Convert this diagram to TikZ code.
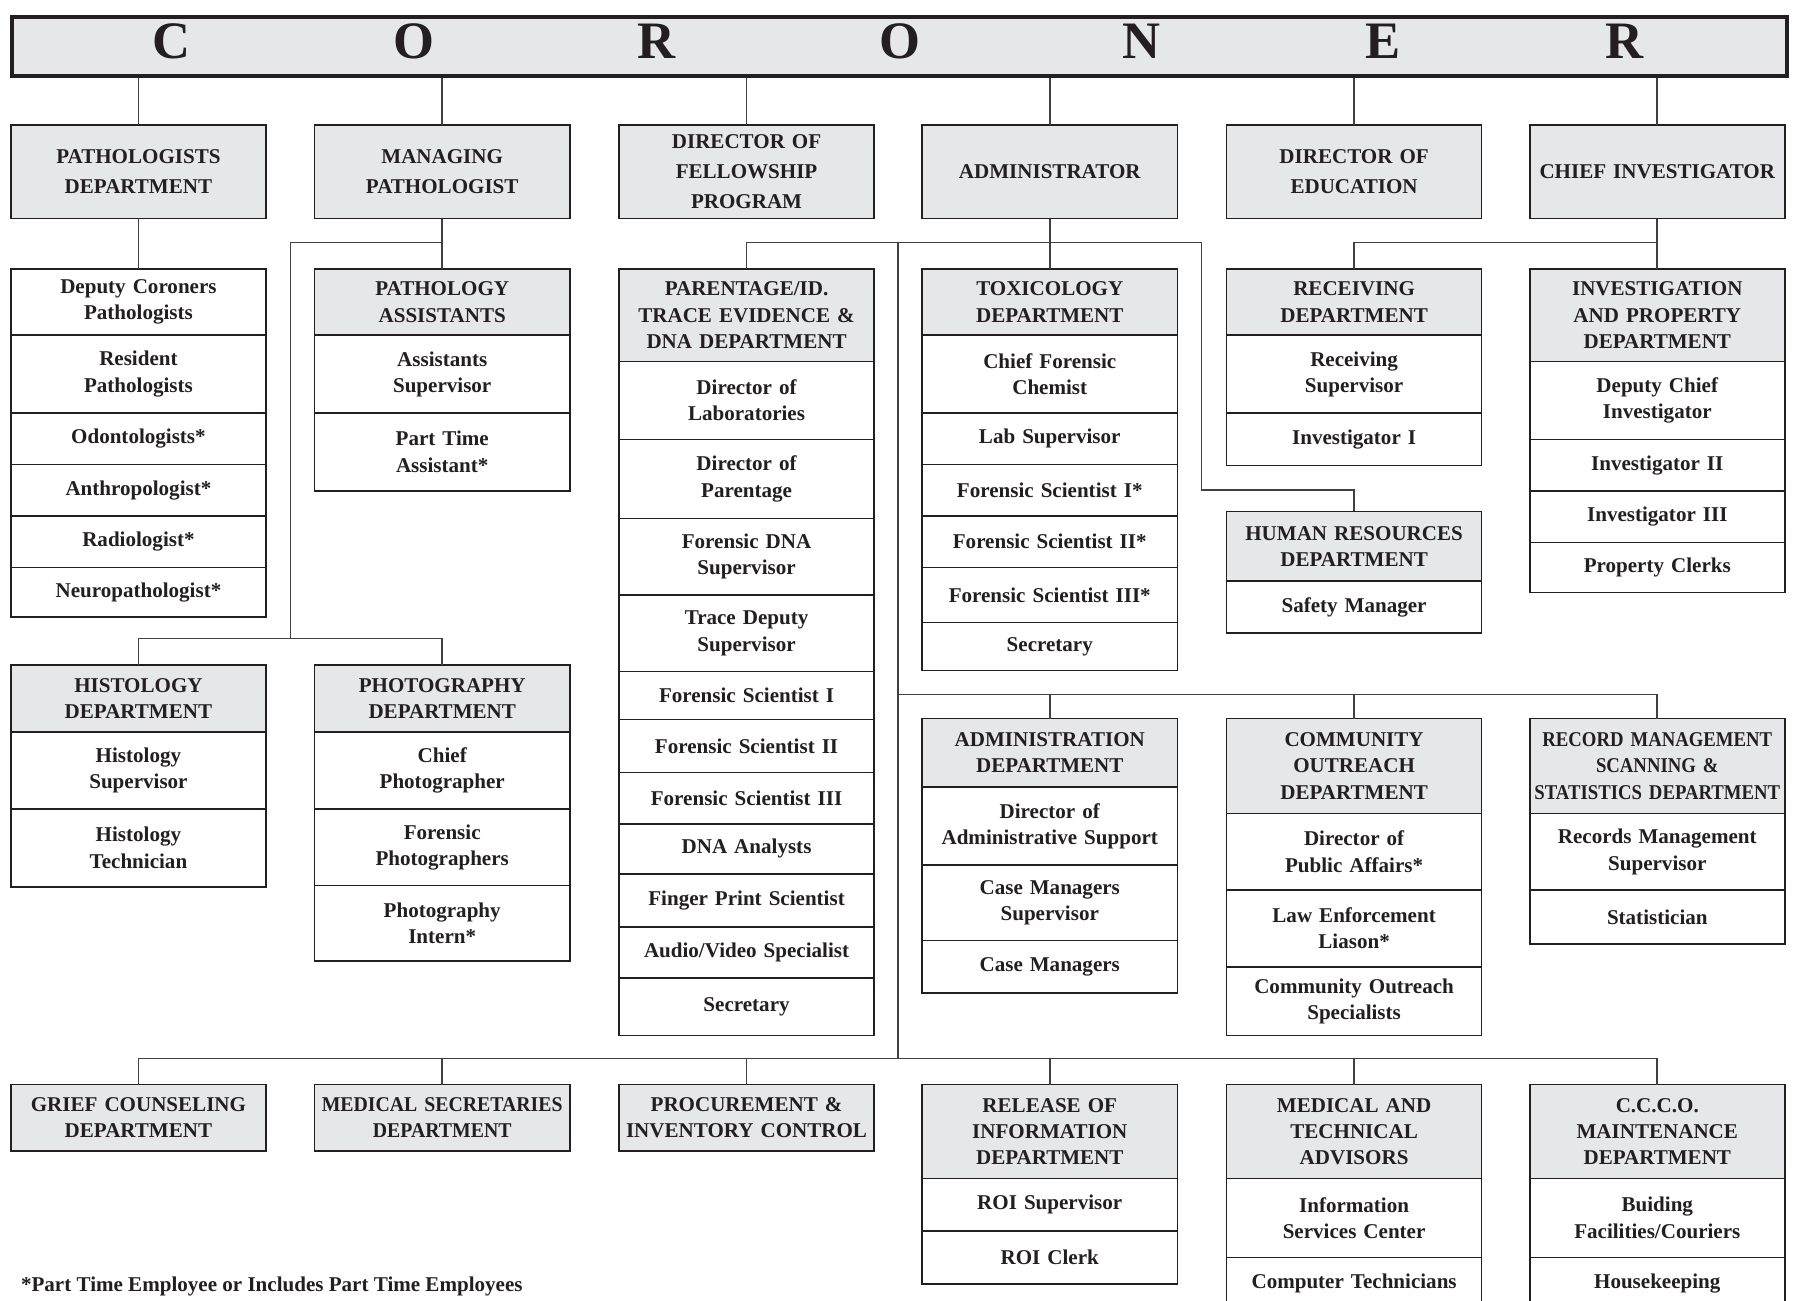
\documentclass[tikz,border=0pt]{standalone}
\usepackage{fontspec}
\setmainfont{Liberation Serif}
\newfontfamily\narrowfont[FakeStretch=0.94]{Liberation Serif}
\newfontfamily\tightfont[FakeStretch=0.89]{Liberation Serif}
\usetikzlibrary{positioning}

\definecolor{inkc}{HTML}{231F20}
\definecolor{headc}{HTML}{E6E7E8}
\definecolor{linec}{HTML}{404040}

\tikzset{
  box/.style={draw=inkc, line width=0.7pt, text=inkc, font=\fontsize{9.2}{11.5}\selectfont\bfseries,
    minimum width=111.5pt, text width=111pt, align=center, inner sep=0pt, outer sep=0pt},
  head/.style={box, fill=headc, anchor=north},
  cell/.style={box, fill=white},
  lead/.style={box, fill=headc, minimum height=41pt, font=\fontsize{9.2}{13}\selectfont\bfseries},
  narrow/.style={font=\narrowfont\fontsize{9.2}{11.5}\selectfont\bfseries},
  tight/.style={font=\tightfont\fontsize{9.2}{11.5}\selectfont\bfseries},
  wire/.style={draw=linec, line width=0.7pt},
}

\newcommand\rows[2]{\foreach \h/\t [count=\i, remember=\i as \j (initially 0)] in {#2}
  {\node[cell, minimum height=\h pt, below=0pt of #1-\j] (#1-\i) {\t};}}

\begin{document}
\begin{tikzpicture}[x=0.5pt, y=-0.5pt]
  \useasboundingbox (0,0) rectangle (1568,1137);

  \node[draw=inkc, line width=1.6pt, fill=headc, minimum width=775.5pt, minimum height=26pt,
    inner sep=0pt, anchor=north west] (coroner) at (9,13) {};
  \foreach \c/\x [count=\n] in {C/150,O/362,R/574,O/787,N/998,E/1209,R/1420}
    \node[text=inkc, font=\fontsize{23}{23}\selectfont\bfseries] (letter\n) at (\x,36) {\c};

  \node[lead] (pathdept) at (121,150) {PATHOLOGISTS\\DEPARTMENT};
  \node[lead] (managing) at (386.5,150) {MANAGING\\PATHOLOGIST};
  \node[lead] (fellow) at (652.5,150) {DIRECTOR OF\\FELLOWSHIP\\PROGRAM};
  \node[lead] (admin) at (917.5,150) {ADMINISTRATOR};
  \node[lead] (educ) at (1183.5,150) {DIRECTOR OF\\EDUCATION};
  \node[lead] (chiefinv) at (1448.5,150) {CHIEF INVESTIGATOR};
  \foreach \n in {pathdept,managing,fellow,admin,educ,chiefinv}
    \draw[wire] (coroner.south -| \n.north) -- (\n.north);

  \node[cell, anchor=north, minimum height=29pt] (pdl-0) at (121,235) {Deputy Coroners\\Pathologists};
  \rows{pdl}{34/{Resident\\Pathologists}, 22.5/{Odontologists*}, 22.5/{Anthropologist*},
    22.5/{Radiologist*}, 21.5/{Neuropathologist*}}

  \node[head, minimum height=29pt, alias=passt-0] (passt) at (386.5,235) {PATHOLOGY\\ASSISTANTS};
  \rows{passt}{34/{Assistants\\Supervisor}, 34/{Part Time\\Assistant*}}

  \node[head, minimum height=40.5pt, alias=parent-0] (parent) at (652.5,235) {PARENTAGE/ID.\\TRACE EVIDENCE \&\\DNA DEPARTMENT};
  \rows{parent}{34/{Director of\\Laboratories}, 34.5/{Director of\\Parentage}, 33.5/{Forensic DNA\\Supervisor},
    33.5/{Trace Deputy\\Supervisor}, 21/{Forensic Scientist I}, 23/{Forensic Scientist II},
    22.5/{Forensic Scientist III}, 22/{DNA Analysts}, 23/{Finger Print Scientist},
    22.5/{Audio/Video Specialist}, 25/{Secretary}}

  \node[head, minimum height=29pt, alias=tox-0] (tox) at (917.5,235) {TOXICOLOGY\\DEPARTMENT};
  \rows{tox}{34/{Chief Forensic\\Chemist}, 22.5/{Lab Supervisor}, 22.5/{Forensic Scientist I*},
    22.5/{Forensic Scientist II*}, 24/{Forensic Scientist III*}, 21/{Secretary}}

  \node[head, minimum height=29pt, alias=recv-0] (recv) at (1183.5,235) {RECEIVING\\DEPARTMENT};
  \rows{recv}{34/{Receiving\\Supervisor}, 23/{Investigator I}}

  \node[head, minimum height=30.5pt, alias=hr-0] (hr) at (1183.5,447) {HUMAN RESOURCES\\DEPARTMENT};
  \rows{hr}{22.5/{Safety Manager}}

  \node[head, minimum height=40.5pt, alias=invest-0] (invest) at (1448.5,235) {INVESTIGATION\\AND PROPERTY\\DEPARTMENT};
  \rows{invest}{34/{Deputy Chief\\Investigator}, 22.5/{Investigator II}, 22.5/{Investigator III},
    22/{Property Clerks}}

  \node[head, minimum height=29.5pt, alias=histo-0] (histo) at (121,581) {HISTOLOGY\\DEPARTMENT};
  \rows{histo}{33.5/{Histology\\Supervisor}, 34/{Histology\\Technician}}

  \node[head, minimum height=29.5pt, alias=photo-0] (photo) at (386.5,581) {PHOTOGRAPHY\\DEPARTMENT};
  \rows{photo}{33.5/{Chief\\Photographer}, 33.5/{Forensic\\Photographers}, 33/{Photography\\Intern*}}

  \node[head, minimum height=30pt, alias=admdept-0] (admdept) at (917.5,628) {ADMINISTRATION\\DEPARTMENT};
  \rows{admdept}{34/{Director of\\Administrative Support}, 33/{Case Managers\\Supervisor}, 23/{Case Managers}}

  \node[head, minimum height=41.5pt, alias=outreach-0] (outreach) at (1183.5,628) {COMMUNITY\\OUTREACH\\DEPARTMENT};
  \rows{outreach}{33.5/{Director of\\Public Affairs*}, 33.5/{Law Enforcement\\Liason*},
    30/{Community Outreach\\Specialists}}

  \node[head, tight, minimum height=41.5pt, alias=records-0] (records) at (1448.5,628) {RECORD MANAGEMENT\\SCANNING \&\\STATISTICS DEPARTMENT};
  \rows{records}{33.5/{Records Management\\Supervisor}, 23.5/{Statistician}}

  \node[head, minimum height=29pt] (grief) at (121,948) {GRIEF COUNSELING\\DEPARTMENT};
  \node[head, narrow, minimum height=29pt] (medsec) at (386.5,948) {MEDICAL SECRETARIES\\DEPARTMENT};
  \node[head, minimum height=29pt] (proc) at (652.5,948) {PROCUREMENT \&\\INVENTORY CONTROL};

  \node[head, minimum height=41pt, alias=roi-0] (roi) at (917.5,948) {RELEASE OF\\INFORMATION\\DEPARTMENT};
  \rows{roi}{23/{ROI Supervisor}, 23/{ROI Clerk}}

  \node[head, minimum height=41pt, alias=medtech-0] (medtech) at (1183.5,948) {MEDICAL AND\\TECHNICAL\\ADVISORS};
  \rows{medtech}{34.5/{Information\\Services Center}, 23/{Computer Technicians}}

  \node[head, minimum height=41pt, alias=ccco-0] (ccco) at (1448.5,948) {C.C.C.O.\\MAINTENANCE\\DEPARTMENT};
  \rows{ccco}{34.5/{Buiding\\Facilities/Couriers}, 23/{Housekeeping}}

  \node[anchor=west, inner sep=0pt, text=inkc, font=\fontsize{9.2}{11.5}\selectfont\bfseries] (note) at (18,1124) {*Part Time Employee or Includes Part Time Employees};

  \coordinate (labturn) at (254,212);
  \coordinate (labbus) at (254,558);
  \coordinate (hrturn) at (1050,212);
  \coordinate (hrdrop) at (1050,428);
  \coordinate (midbus) at (785,607);
  \coordinate (lowbus) at (785,925);

  \draw[wire] (pathdept.south) -- (pdl-0.north);
  \draw[wire] (managing.south) -- (passt.north);
  \draw[wire] (managing.south |- labturn) -- (labturn) -- (labbus);
  \draw[wire] (histo.north) |- (labbus) -| (photo.north);

  \draw[wire] (admin.south) -- (tox.north);
  \draw[wire] (parent.north) |- (hrturn) -- (hrdrop) -| (hr.north);
  \draw[wire] (midbus |- hrturn) -- (lowbus);
  \draw[wire] (midbus) -| (records.north);
  \foreach \n in {admdept,outreach}
    \draw[wire] (\n.north) -- (\n.north |- midbus);
  \draw[wire] (grief.north) |- (lowbus) -| (ccco.north);
  \foreach \n in {medsec,proc,roi,medtech}
    \draw[wire] (\n.north) -- (\n.north |- lowbus);

  \draw[wire] (chiefinv.south) -- (invest.north);
  \draw[wire] (recv.north) |- (invest.north |- hrturn);
\end{tikzpicture}
\end{document}
